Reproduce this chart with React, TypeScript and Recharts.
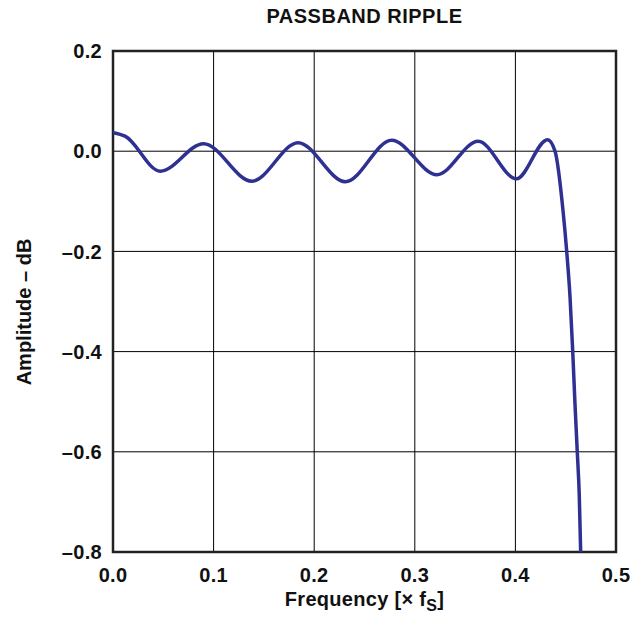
import React from 'react';
import { LineChart, Line, XAxis, YAxis, CartesianGrid, ReferenceArea } from 'recharts';

// frequency (x fs) and amplitude (dB)
const freq = [0, 0.012, 0.047, 0.09, 0.138, 0.184, 0.231, 0.277, 0.322, 0.363, 0.401, 0.432, 0.4394, 0.4476, 0.451, 0.4543, 0.457, 0.4592, 0.4615, 0.4635, 0.4649];
const amplitude = [0.037, 0.03, -0.04, 0.015, -0.06, 0.017, -0.061, 0.022, -0.047, 0.02, -0.055, 0.023, 0.0, -0.124, -0.2, -0.291, -0.4, -0.503, -0.6, -0.688, -0.8];

const xTicks = [0, 0.1, 0.2, 0.3, 0.4, 0.5];
const yTicks = [0.2, 0, -0.2, -0.4, -0.6, -0.8];

const FONT = '"Liberation Sans", Arial, sans-serif';
const CURVE = '#2e3192';

const data = freq.map((f, i) => ({ f, amp: amplitude[i] }));

const fmt = (v: number) => v.toFixed(1).replace('-', '\u2013');

export default function App() {
  const tickStyle = { fontFamily: FONT, fontSize: 20, fontWeight: 700, fill: '#111', letterSpacing: 0.3 };
  return (
    <div style={{ position: 'absolute', left: 0, top: 0, width: 634, height: 618, fontFamily: FONT, background: '#fff', color: '#111' }}>
      <div style={{ position: 'absolute', left: 113, width: 503, top: 5, textAlign: 'center', fontSize: 20, fontWeight: 700, letterSpacing: 0.5 }}>
        PASSBAND RIPPLE
      </div>
      <LineChart width={634} height={618} data={data} margin={{ top: 51, right: 18, bottom: 0, left: 0 }}>
        <CartesianGrid stroke="#000" strokeWidth={1} strokeDasharray="" />
        <XAxis
          dataKey="f"
          type="number"
          domain={[0, 0.5]}
          ticks={xTicks}
          tickFormatter={fmt}
          axisLine={false}
          tickLine={false}
          tickMargin={10}
          height={66}
          tick={tickStyle}
          allowDataOverflow
        />
        <YAxis
          type="number"
          domain={[-0.8, 0.2]}
          ticks={yTicks}
          tickFormatter={fmt}
          axisLine={false}
          tickLine={false}
          tickMargin={5}
          width={113}
          tick={tickStyle}
          allowDataOverflow
        />
        <ReferenceArea x1={0} x2={0.5} y1={-0.8} y2={0.2} fill="none" stroke="#222" strokeWidth={2.5} />
        <Line type="monotone" dataKey="amp" stroke={CURVE} strokeWidth={3.5} dot={false} isAnimationActive={false} />
      </LineChart>
      <div style={{ position: 'absolute', left: 113, width: 503, top: 588, textAlign: 'center', fontSize: 20, fontWeight: 700, letterSpacing: 0.3 }}>
        Frequency [× f<sub style={{ fontSize: 16, lineHeight: 0 }}>S</sub>]
      </div>
      <div
        style={{
          position: 'absolute',
          left: 24,
          top: 312,
          transform: 'translate(-50%, -50%) rotate(-90deg)',
          whiteSpace: 'nowrap',
          fontSize: 20,
          fontWeight: 700,
        }}
      >
        Amplitude – dB
      </div>
    </div>
  );
}
